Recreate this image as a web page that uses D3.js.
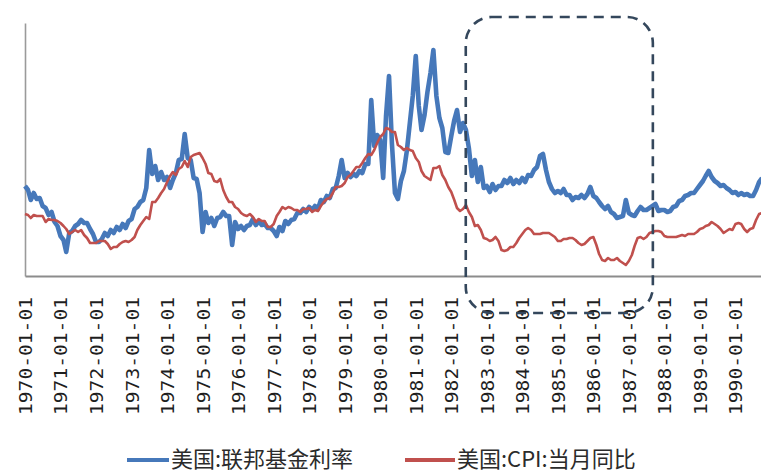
<!DOCTYPE html>
<html>
<head>
<meta charset="utf-8">
<script src="https://cdn.jsdelivr.net/npm/d3@7/dist/d3.min.js"></script>
<style>
  html, body { margin: 0; padding: 0; background: #ffffff; }
  svg { display: block; }
</style>
</head>
<body>
<svg id="chart" width="761" height="473"></svg>
<script>
// Series names (legend)
const seriesNames = ["美国:联邦基金利率", "美国:CPI:当月同比"];

// Year tick labels on the category axis
const tickLabels = [
  "1970-01-01","1971-01-01","1972-01-01","1973-01-01","1974-01-01",
  "1975-01-01","1976-01-01","1977-01-01","1978-01-01","1979-01-01",
  "1980-01-01","1981-01-01","1982-01-01","1983-01-01","1984-01-01",
  "1985-01-01","1986-01-01","1987-01-01","1988-01-01","1989-01-01",
  "1990-01-01"
];

// Federal funds rate (%), monthly from 1970-01
const fedFunds = [
  9.0, 8.6, 7.6, 8.3, 7.7, 7.8, 7.0, 6.8, 6.1, 6.4, 5.4, 5.0,      // 1970
  4.0, 3.6, 2.4, 4.3, 4.5, 5.0, 5.2, 5.6, 5.3, 5.3, 4.7, 4.2,      // 1971
  3.4, 3.4, 3.7, 4.3, 4.0, 4.6, 4.3, 4.9, 4.6, 5.2, 4.8, 5.5,      // 1972
  5.7, 6.7, 6.9, 7.4, 7.6, 8.8, 12.6, 10.2, 11.0, 9.6, 10.4, 9.6,  // 1973
  9.9, 8.8, 9.6, 10.3, 11.6, 11.7, 14.2, 11.8, 11.6, 9.8, 9.7, 8.3,// 1974
  4.4, 6.4, 5.3, 5.8, 5.0, 5.8, 5.9, 6.4, 6.0, 6.0, 3.1, 5.4,      // 1975
  4.7, 5.0, 4.6, 5.0, 5.1, 5.7, 5.1, 5.5, 5.1, 5.2, 4.8, 4.8,      // 1976
  4.5, 4.0, 4.9, 4.5, 5.5, 5.2, 5.6, 5.7, 6.3, 6.3, 6.7, 6.4,      // 1977
  6.9, 6.6, 7.0, 6.7, 7.6, 7.4, 8.0, 7.8, 8.7, 8.8, 10.0, 11.6,    // 1978
  9.8, 10.3, 9.9, 10.2, 10.0, 10.5, 10.3, 11.2, 11.2, 17.6, 13.0, 14.1, // 1979
  13.6, 9.8, 16.0, 20.0, 13.2, 8.3, 7.7, 9.5, 10.5, 12.5, 15.3, 18.0,   // 1980
  22.0, 17.0, 14.6, 16.1, 18.4, 20.3, 22.6, 18.0, 15.8, 14.8, 12.4, 12.3, // 1981
  14.0, 15.6, 16.6, 14.4, 15.3, 14.6, 12.8, 10.0, 11.6, 9.4, 10.9, 8.8,   // 1982
  9.0, 8.4, 9.2, 8.6, 9.0, 9.0, 9.6, 9.3, 9.8, 9.2, 9.6, 9.3,      // 1983
  9.8, 9.4, 10.1, 10.0, 10.6, 10.9, 12.0, 12.2, 10.6, 9.4, 8.7, 8.3, // 1984
  8.5, 8.3, 8.7, 8.1, 8.1, 7.6, 7.9, 7.8, 8.1, 7.8, 8.2, 8.9,      // 1985
  8.0, 7.8, 7.4, 7.0, 6.7, 7.0, 6.4, 6.2, 5.8, 5.9, 6.0, 7.6,      // 1986
  6.3, 6.1, 6.0, 6.5, 6.9, 6.6, 6.6, 6.8, 7.0, 7.2, 6.5, 6.6,      // 1987
  6.6, 6.4, 6.5, 6.9, 7.0, 7.5, 7.6, 8.0, 8.1, 8.3, 8.3, 8.7,      // 1988
  9.1, 9.5, 10.0, 10.5, 9.9, 9.5, 9.3, 9.0, 9.1, 8.8, 8.6, 8.3,    // 1989
  8.4, 8.1, 8.3, 8.1, 8.2, 8.0, 8.0, 8.6, 9.4, 9.8                 // 1990
];

// CPI year-on-year (%), monthly from 1970-01
const cpiYoY = [
  6.2, 6.1, 5.8, 6.1, 6.0, 6.0, 6.0, 5.4, 5.7, 5.6, 5.6, 5.5,      // 1970
  5.3, 5.0, 4.7, 4.2, 4.4, 4.6, 4.4, 4.6, 4.1, 3.8, 3.3, 3.3,      // 1971
  3.3, 3.5, 3.5, 3.5, 3.2, 2.7, 2.9, 2.9, 3.2, 3.4, 3.5, 3.4,      // 1972
  3.6, 3.9, 4.6, 5.1, 5.5, 5.9, 5.7, 7.4, 7.4, 7.8, 8.3, 8.7,      // 1973
  9.4, 10.0, 10.4, 10.1, 10.7, 10.9, 11.5, 10.9, 11.9, 12.1, 12.2, 12.3, // 1974
  11.8, 11.2, 10.3, 10.2, 9.5, 9.4, 9.7, 8.6, 7.9, 7.4, 7.4, 6.9,  // 1975
  6.7, 6.3, 6.1, 6.0, 6.2, 5.9, 5.4, 5.7, 5.5, 5.5, 4.9, 4.9,      // 1976
  5.2, 6.0, 6.4, 6.9, 6.7, 6.9, 6.8, 6.6, 6.6, 6.4, 6.7, 6.7,      // 1977
  6.8, 6.4, 6.6, 6.5, 7.0, 7.4, 7.7, 7.8, 8.3, 8.9, 8.9, 9.0,      // 1978
  9.3, 9.9, 10.1, 10.5, 10.9, 10.9, 11.3, 11.8, 12.2, 12.1, 12.6, 13.3, // 1979
  13.9, 14.2, 14.8, 14.7, 14.4, 14.4, 13.1, 12.9, 12.6, 12.8, 12.6, 12.5, // 1980
  11.8, 11.4, 10.5, 10.0, 9.8, 9.6, 10.8, 10.8, 11.0, 10.1, 9.6, 8.9, // 1981
  8.4, 7.6, 6.8, 6.5, 6.7, 7.1, 6.4, 5.9, 5.0, 5.1, 4.6, 3.8,      // 1982
  3.7, 3.5, 3.6, 3.9, 3.5, 2.6, 2.5, 2.6, 2.9, 2.9, 3.3, 3.8,      // 1983
  4.2, 4.6, 4.8, 4.6, 4.2, 4.2, 4.2, 4.3, 4.3, 4.3, 4.1, 3.9,      // 1984
  3.5, 3.5, 3.7, 3.7, 3.8, 3.8, 3.6, 3.3, 3.1, 3.2, 3.5, 3.8,      // 1985
  3.9, 3.1, 2.2, 1.6, 1.5, 1.8, 1.6, 1.6, 1.8, 1.5, 1.3, 1.1,      // 1986
  1.5, 2.1, 3.0, 3.8, 3.9, 3.7, 3.9, 4.3, 4.4, 4.5, 4.5, 4.4,      // 1987
  4.0, 3.9, 3.9, 3.9, 3.9, 4.0, 4.1, 4.0, 4.2, 4.2, 4.2, 4.4,      // 1988
  4.7, 4.8, 5.0, 5.1, 5.4, 5.2, 5.0, 4.7, 4.3, 4.5, 4.7, 4.6,      // 1989
  5.2, 5.3, 5.2, 4.7, 4.4, 4.7, 4.8, 5.6, 6.2, 6.3                 // 1990
];

const svg = d3.select("#chart");

const plot = { left: 25, top: 23, bottom: 276, right: 762 };

// Time axis: 1970-01-01 at the left edge, about 35.5 px per year
const x = d3.scaleTime()
  .domain([new Date(1970, 0, 1), new Date(1990, 9, 1)])
  .range([plot.left, plot.right]);

const y = d3.scaleLinear()
  .domain([0, 25.3])
  .range([plot.bottom, plot.top]);

const monthDate = i => new Date(1970, i, 1);

// Axes
const yAxis = svg.append("g")
  .attr("transform", `translate(${plot.left},0)`)
  .call(d3.axisLeft(y).tickValues([]).tickSizeOuter(0));
yAxis.select(".domain").attr("stroke", "#9a9a9a").attr("stroke-width", 1.6);

const parse = d3.timeParse("%Y-%m-%d");
const xAxis = svg.append("g")
  .attr("transform", `translate(0,${plot.bottom})`)
  .call(d3.axisBottom(x)
    .tickValues(tickLabels.map(parse))
    .tickFormat(d3.timeFormat("%Y-%m-%d"))
    .tickSize(0)
    .tickSizeOuter(0));
xAxis.select(".domain").attr("stroke", "#8c8c8c").attr("stroke-width", 2);
xAxis.selectAll(".tick text")
  .attr("font-family", "'DejaVu Sans Mono', monospace")
  .attr("font-size", 18)
  .attr("fill", "#1e1e1e")
  .attr("text-anchor", "end")
  .attr("textLength", 118)
  .attr("lengthAdjust", "spacingAndGlyphs")
  .attr("x", 0)
  .attr("y", 0)
  .attr("dy", "0.36em")
  .attr("transform", "translate(0,21) rotate(-90)");

// Lines
const line = d3.line()
  .x((d, i) => x(monthDate(i)))
  .y(d => y(d))
  .curve(d3.curveLinear);

svg.append("path")
  .datum(fedFunds)
  .attr("fill", "none")
  .attr("stroke", "#4678ba")
  .attr("stroke-width", 4.6)
  .attr("stroke-linejoin", "round")
  .attr("d", line);

svg.append("path")
  .datum(cpiYoY)
  .attr("fill", "none")
  .attr("stroke", "#c0504d")
  .attr("stroke-width", 2.6)
  .attr("stroke-linejoin", "round")
  .attr("d", line);

// Highlight box around 1983–1987
const boxX0 = x(parse("1983-01-01")) - 21;
const boxX1 = x(parse("1987-01-01")) + 24;
svg.append("rect")
  .attr("x", boxX0)
  .attr("y", 17)
  .attr("width", boxX1 - boxX0)
  .attr("height", 296)
  .attr("rx", 26)
  .attr("ry", 26)
  .attr("fill", "none")
  .attr("stroke", "#34475c")
  .attr("stroke-width", 2.6)
  .attr("stroke-dasharray", "10,7");

// Legend
const colors = ["#4678ba", "#c0504d"];
const legendX = [127, 405];
const legendLen = [42, 50];
const legend = svg.append("g");
seriesNames.forEach((name, i) => {
  const g = legend.append("g").attr("transform", `translate(${legendX[i]},460)`);
  g.append("line")
    .attr("x1", 0).attr("x2", legendLen[i])
    .attr("y1", 0).attr("y2", 0)
    .attr("stroke", colors[i])
    .attr("stroke-width", 4);
  g.append("text")
    .attr("x", legendLen[i] + 2)
    .attr("y", 0)
    .attr("dy", "0.34em")
    .attr("font-family", "'Noto Sans CJK SC', sans-serif")
    .attr("font-size", 22)
    .attr("fill", "#2b2b2b")
    .text(name);
});
</script>
</body>
</html>
